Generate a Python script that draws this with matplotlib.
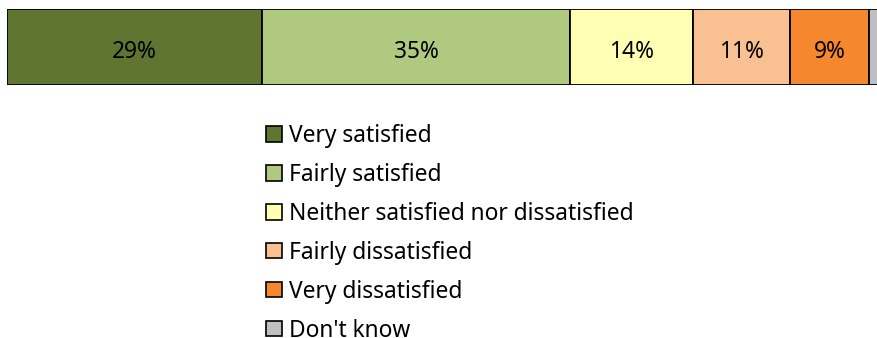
import matplotlib.pyplot as plt
from matplotlib.patches import Patch

categories = ['Very satisfied', 'Fairly satisfied', 'Neither satisfied nor dissatisfied',
              'Fairly dissatisfied', 'Very dissatisfied', "Don't know"]
values = [29, 35, 14, 11, 9, 2]
colors = ['#5f7530', '#afca7e', '#ffffb3', '#f9c092', '#f5882c', '#bfbfbf']

plt.rcParams['font.family'] = ['Noto Sans', 'DejaVu Sans']

fig = plt.figure(figsize=(8.78, 3.38), dpi=100)
ax = fig.add_axes([7 / 878, 1 - 85 / 338, 1 - 7 / 878, 76 / 338])

left = 0
for cat, v, c in zip(categories, values, colors):
    ax.barh(0, v, left=left, height=1, color=c, edgecolor='black', linewidth=1.3)
    if v >= 5:
        ax.text(left + v / 2, -0.02, f'{v}%', ha='center', va='center_baseline', fontsize=16.4)
    left += v

ax.set_xlim(0, 99)
ax.set_ylim(-0.5, 0.5)
ax.axis('off')

handles = [Patch(facecolor=c, edgecolor='black', linewidth=1.2) for c in colors]
fig.legend(handles, categories, loc='upper left', bbox_to_anchor=(266 / 878, 1 - 124 / 338),
           frameon=False, fontsize=16.4, handlelength=0.7, handleheight=0.66,
           handletextpad=0.3, labelspacing=0.655, borderpad=0, borderaxespad=0)

fig.savefig('out.png', dpi=100)
